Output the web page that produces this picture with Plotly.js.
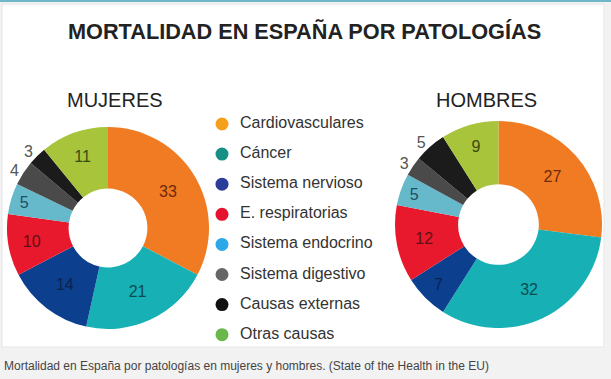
<!DOCTYPE html>
<html><head><meta charset="utf-8">
<script src="https://cdn.plot.ly/plotly-3.0.1.min.js"></script>
<style>html,body{margin:0;padding:0;background:#f2f2f2;}#c{width:611px;height:379px;}</style>
</head><body><div id="c"></div>
<script>
const categories = ["Cardiovasculares","Cáncer","Sistema nervioso","E. respiratorias","Sistema endocrino","Sistema digestivo","Causas externas","Otras causas"];
const mujeres = [33,21,14,10,5,4,3,11];
const hombres = [27,32,7,12,5,3,5,9];
const sliceColors = ["#f07b22","#17b0b4","#0c3f8e","#e8192c","#66b8cb","#4a4a4a","#1b1b1b","#a7c43a"];
const legendColors = ["#f5a01a","#168f85","#2b3c9a","#e5122f","#2aa8e8","#666666","#111111","#6ab84a"];
const textColors = ["#6e2a10","#0b4c52","#0b2250","#5e0f16","#1f4f5f","#555555","#555555","#3d4a10"];
const mujeresPos = ["inside","inside","inside","inside","inside","outside","outside","inside"];
const hombresPos = ["inside","inside","inside","inside","inside","outside","outside","inside"];

const W = 611, H = 379;
const px = v => v / W, py = v => 1 - v / H;
const FONT = "Liberation Sans, Arial, sans-serif";

function pie(values, positions, dom) {
  return {
    type: "pie", values: values, labels: categories, sort: false, direction: "clockwise",
    rotation: 0, hole: 0.39, marker: {colors: sliceColors, line: {width: 0}},
    textinfo: "value", textposition: positions, insidetextorientation: "horizontal",
    textfont: {family: FONT, size: 16, color: textColors.map((c,i)=>positions[i]==="outside"?"#555555":c)},
    showlegend: false, hoverinfo: "label+value", domain: dom
  };
}

const data = [
  pie(mujeres, mujeresPos, {x: [px(7), px(209)], y: [py(329), py(127)]}),
  pie(hombres, hombresPos, {x: [px(395), px(602)], y: [py(328), py(121)]}),
  {
    type: "scatter", mode: "markers+text",
    x: categories.map(() => 0), y: categories.map((_, i) => i),
    text: categories.map(c => "  " + c), textposition: "middle right",
    textfont: {family: FONT, size: 16, color: "#333333"},
    marker: {color: legendColors, size: 13}, showlegend: false, hoverinfo: "skip", cliponaxis: false
  }
];

function ann(text, x, y, size, xanchor, color) {
  return {text: text, xref: "paper", yref: "paper", x: px(x), y: py(y), xanchor: xanchor, yanchor: "middle",
          showarrow: false, font: {family: FONT, size: size, color: color}};
}

const layout = {
  width: W, height: H, margin: {l: 0, r: 0, t: 0, b: 0},
  paper_bgcolor: "#f2f2f2", plot_bgcolor: "rgba(0,0,0,0)",
  xaxis: {range: [-222, 389], domain: [0, 1], visible: false, fixedrange: true},
  yaxis: {range: [(H - 124) / 30.1, -124 / 30.1], domain: [0, 1], visible: false, fixedrange: true},
  shapes: [
    {type: "rect", xref: "paper", yref: "paper", x0: px(2), x1: px(604), y0: py(347), y1: py(4),
     fillcolor: "#ffffff", line: {color: "#e6e6e6", width: 1}, layer: "below"},
    {type: "rect", xref: "paper", yref: "paper", x0: 0, x1: 1, y0: py(2), y1: 1,
     fillcolor: "#6fb7c6", line: {width: 0}, layer: "below"}
  ],
  annotations: [
    ann("<b>MORTALIDAD EN ESPAÑA POR PATOLOGÍAS</b>", 304, 32, 21.7, "center", "#222222"),
    ann("MUJERES", 115, 100, 20, "center", "#222222"),
    ann("HOMBRES", 486, 100, 20, "center", "#222222"),
    ann("Mortalidad en España por patologías en mujeres y hombres. (State of the Health in the EU)", 2, 366, 12, "left", "#444444")
  ]
};

Plotly.newPlot("c", data, layout, {displayModeBar: false, staticPlot: true});
</script></body></html>
